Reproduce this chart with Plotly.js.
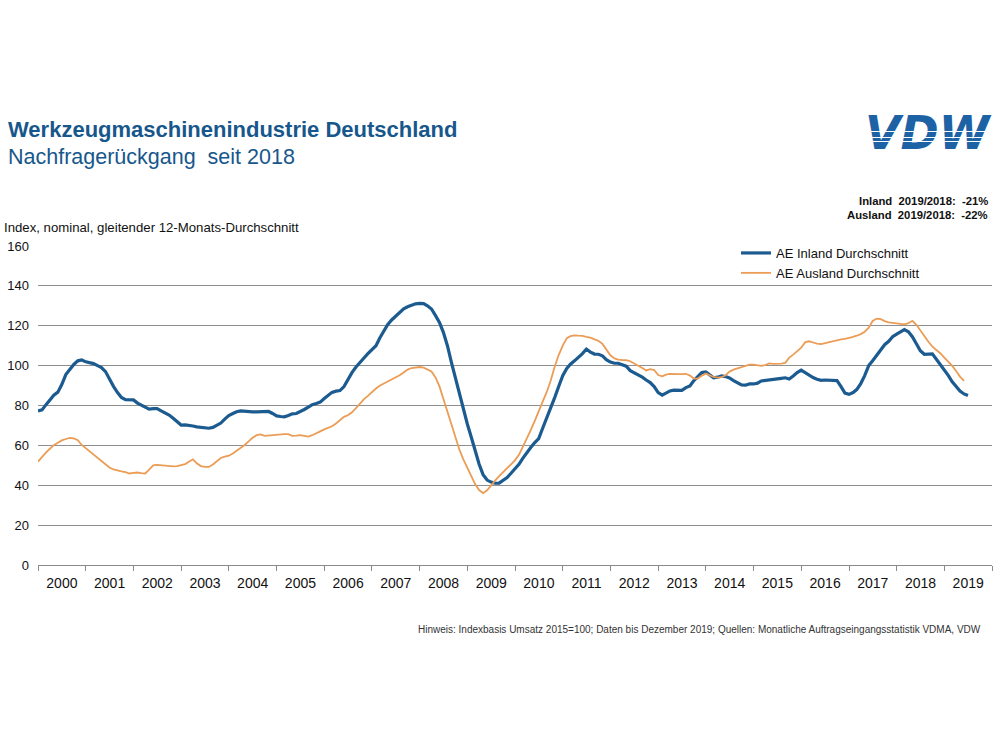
<!DOCTYPE html>
<html>
<head>
<meta charset="utf-8">
<script src="https://cdn.plot.ly/plotly-3.0.1.min.js"></script>
<style>
  html, body { margin: 0; padding: 0; background: #fff; }
  #chart { width: 1000px; height: 750px; }
</style>
</head>
<body>
<div id="chart"></div>
<script>
// Monthly order intake index (12-month moving average), starting January 2000
const startYear = 2000;

// AE Inland Durchschnitt
const inland = [
  77.3, 77.8, 80.3, 83.0, 85.2, 86.7, 90.5, 95.5, 98.0, 100.6, 102.4, 102.8,   // 2000
  101.9, 101.5, 101.0, 100.0, 99.0, 97.0, 93.0, 89.6, 86.5, 84.0, 82.9, 83.0,  // 2001
  82.8, 81.2, 80.2, 79.0, 78.2, 78.4, 78.4, 77.3, 76.3, 75.2, 73.6, 72.0,      // 2002
  70.2, 70.3, 70.2, 69.7, 69.3, 69.1, 68.8, 68.6, 69.0, 70.0, 71.2, 73.2,      // 2003
  75.0, 76.0, 76.9, 77.3, 77.1, 76.8, 76.8, 76.8, 76.8, 76.9, 77.0, 76.0,      // 2004
  74.8, 74.5, 74.3, 75.0, 75.8, 76.0, 76.8, 78.0, 79.2, 80.4, 81.0, 81.7,      // 2005
  83.5, 85.3, 86.6, 87.2, 87.5, 89.5, 93.0, 96.5, 99.3, 101.3, 103.8, 106.0,   // 2006
  107.8, 110.0, 113.7, 117.4, 120.5, 122.9, 124.7, 127.0, 128.5, 129.5, 130.3, 131.0, // 2007
  131.2, 131.1, 130.0, 128.4, 125.2, 121.7, 116.7, 110.0, 101.5, 93.8, 86.1, 78.4,    // 2008
  70.6, 63.8, 57.3, 50.5, 45.3, 42.6, 41.6, 41.0, 41.1, 42.3, 43.9, 46.0,      // 2009
  48.2, 50.6, 53.5, 56.4, 58.9, 61.4, 63.4, 68.7, 73.7, 78.6, 84.1, 89.5,      // 2010
  94.9, 98.6, 100.7, 102.4, 104.0, 106.0, 108.3, 106.8, 105.8, 105.7, 104.9, 103.0,  // 2011
  101.8, 101.2, 101.2, 100.6, 99.7, 97.5, 96.5, 95.2, 94.2, 92.8, 91.5, 89.5,  // 2012
  86.5, 85.2, 86.3, 87.3, 87.7, 87.6, 87.6, 89.0, 89.8, 92.5, 94.8, 96.5,      // 2013
  96.8, 95.3, 93.9, 94.2, 94.8, 94.5, 93.8, 92.5, 91.3, 90.3, 90.2, 90.8,      // 2014
  90.8, 91.2, 92.3, 92.5, 92.8, 93.1, 93.3, 93.6, 93.9, 93.3, 94.8, 96.5,      // 2015
  97.7, 96.5, 95.0, 94.0, 93.2, 92.6, 92.8, 92.8, 92.8, 92.5, 89.5, 86.2,      // 2016
  85.6, 86.5, 88.0, 91.0, 95.0, 100.0, 102.5, 105.0, 108.0, 110.5, 112.2, 114.5, // 2017
  115.8, 116.8, 118.1, 117.0, 114.5, 111.0, 107.5, 105.7, 106.0, 105.9, 103.2, 100.5, // 2018
  98.0, 95.0, 92.0, 89.5, 87.3, 85.8, 85.0                                     // 2019
];

// AE Ausland Durchschnitt
const ausland = [
  51.8, 54.3, 56.4, 58.3, 60.1, 61.3, 62.5, 63.2, 63.7, 63.5, 62.6, 60.2,      // 2000
  58.5, 57.0, 55.2, 53.9, 51.9, 50.2, 48.9, 47.9, 47.3, 47.0, 46.6, 45.9,      // 2001
  46.2, 46.4, 46.1, 45.9, 47.8, 50.0, 50.2, 50.0, 49.8, 49.6, 49.5, 49.6,      // 2002
  50.0, 50.6, 51.8, 53.0, 51.0, 49.6, 49.2, 49.2, 50.4, 52.0, 53.7, 54.4,      // 2003
  54.8, 55.9, 57.2, 58.6, 60.2, 62.0, 63.8, 65.1, 65.5, 64.8, 65.0, 65.3,      // 2004
  65.4, 65.6, 65.6, 65.6, 64.8, 64.9, 65.1, 64.8, 64.4, 65.1, 65.9, 67.0,      // 2005
  68.0, 68.7, 69.6, 71.0, 72.8, 74.3, 75.1, 76.6, 78.7, 81.0, 83.2, 84.8,      // 2006
  86.8, 88.5, 89.9, 91.0, 91.8, 92.8, 94.2, 95.2, 96.6, 98.0, 98.8, 99.2,      // 2007
  99.3, 99.0, 98.2, 97.1, 94.2, 89.6, 83.4, 77.0, 70.5, 63.8, 57.8, 53.0,      // 2008
  48.5, 44.3, 40.6, 37.6, 36.0, 37.5, 39.6, 42.3, 44.6, 46.8, 48.6, 50.5,      // 2009
  52.6, 55.4, 59.0, 63.1, 67.6, 72.3, 77.4, 82.1, 86.8, 92.5, 99.6, 105.3,     // 2010
  110.0, 113.8, 114.8, 115.2, 115.0, 114.9, 114.4, 114.0, 113.2, 112.5, 110.9, 108.1, // 2011
  105.2, 103.6, 103.0, 102.8, 102.8, 102.2, 101.2, 100.2, 98.8, 97.6, 98.2, 97.8,     // 2012
  95.3, 94.6, 95.5, 95.9, 95.7, 95.7, 95.7, 95.9, 95.0, 93.5, 93.5, 95.0,      // 2013
  96.0, 95.0, 94.3, 94.0, 94.2, 95.2, 97.0, 98.0, 98.6, 99.2, 99.9, 100.5,     // 2014
  100.5, 100.0, 99.9, 100.3, 101.1, 100.9, 100.8, 101.0, 101.4, 104.0, 105.5, 107.0, // 2015
  109.0, 111.8, 112.2, 111.6, 111.0, 110.8, 111.3, 111.8, 112.5, 113.0, 113.2, 113.4, // 2016
  113.8, 114.4, 115.0, 115.8, 117.0, 119.0, 122.4, 123.6, 123.3, 122.3, 121.7, 121.4, // 2017
  121.2, 121.0, 120.7, 121.3, 122.5, 120.5, 117.5, 114.9, 112.0, 109.6, 107.8, 106.2, // 2018
  104.0, 102.0, 100.0, 97.3, 94.5, 92.3                                        // 2019
];

const seriesNames = ['AE Inland Durchschnitt', 'AE Ausland Durchschnitt'];
const yTicks = [0, 20, 40, 60, 80, 100, 120, 140, 160];

// month dates (first of each month) for the series
function monthDates(n) {
  const out = [];
  for (let i = 0; i < n; i++) {
    const y = startYear + Math.floor(i / 12);
    const m = (i % 12) + 1;
    out.push(y + '-' + (m < 10 ? '0' + m : m) + '-01');
  }
  return out;
}

// plot area in pixels, used to place page texts around it
const plotL = 38, plotR = 992, plotT = 246, plotB = 565;
const px = x => (x - plotL) / (plotR - plotL);
const py = y => (plotB - y) / (plotB - plotT);

const FONT = 'Liberation Sans, Arial, Helvetica, sans-serif';
const titleBlue = '#17578c';
const logoBlue = '#1d62a5';

const traces = [
  {
    x: monthDates(inland.length), y: inland, name: seriesNames[0],
    type: 'scatter', mode: 'lines',
    line: { color: '#1b5b90', width: 3.2 },
    hoverinfo: 'skip'
  },
  {
    x: monthDates(ausland.length), y: ausland, name: seriesNames[1],
    type: 'scatter', mode: 'lines',
    line: { color: '#eb9c55', width: 1.8 },
    hoverinfo: 'skip'
  }
];

const ann = (text, x, y, opts) => Object.assign({
  text: text, xref: 'paper', yref: 'paper', x: px(x), y: py(y),
  xanchor: 'left', yanchor: 'middle', showarrow: false,
  font: { family: FONT, size: 12, color: '#111' }
}, opts || {});

const annotations = [
  ann('<b>Werkzeugmaschinenindustrie Deutschland</b>', 6, 129,
      { font: { family: FONT, size: 22, color: titleBlue } }),
  ann('Nachfragerückgang  seit 2018', 6, 157,
      { font: { family: FONT, size: 21.5, color: titleBlue } }),
  ann('Index, nominal, gleitender 12-Monats-Durchschnitt', 2, 228,
      { font: { family: FONT, size: 13.2, color: '#111' } }),
  ann('<b>Inland  2019/2018:  -21%</b>', 990, 201,
      { xanchor: 'right', font: { family: FONT, size: 11.3, color: '#111' } }),
  ann('<b>Ausland  2019/2018:  -22%</b>', 990, 215,
      { xanchor: 'right', font: { family: FONT, size: 11.3, color: '#111' } }),
  ann('Hinweis: Indexbasis Umsatz 2015=100; Daten bis Dezember 2019; Quellen: Monatliche Auftragseingangsstatistik VDMA, VDW',
      983, 629, { xanchor: 'right', font: { family: FONT, size: 10, color: '#333' } }),
  // logo lettering
  ann('<b><i>VDW</i></b>', 994, 133,
      { xanchor: 'right', font: { family: 'DejaVu Sans, sans-serif', size: 46, color: logoBlue } })
];

// thin white stripes across the lower half of the logo lettering
[132, 137, 141.5].forEach(y => annotations.push(ann(' ', 862, y, {
  xanchor: 'left', width: 136, height: 1, borderpad: 0, borderwidth: 0,
  bgcolor: '#ffffff', font: { family: FONT, size: 1, color: '#ffffff' }
})));

const layout = {
  width: 1000, height: 750,
  margin: { l: plotL, r: 1000 - plotR, t: plotT, b: 750 - plotB, pad: 0 },
  paper_bgcolor: '#ffffff', plot_bgcolor: '#ffffff',
  font: { family: FONT, size: 13, color: '#111' },
  showlegend: true,
  legend: {
    x: px(736), y: py(238), xanchor: 'left', yanchor: 'top',
    bgcolor: 'rgba(0,0,0,0)', font: { family: FONT, size: 13, color: '#111' },
    tracegroupgap: 0, itemclick: false
  },
  xaxis: {
    type: 'date',
    range: ['2000-01-01', '2020-01-01'],
    tick0: '2000-01-01', dtick: 'M12',
    ticklabelmode: 'period', tickformat: '%Y',
    ticks: 'outside', ticklen: 5, tickcolor: '#8a8a8a', tickwidth: 1,
    showline: true, linecolor: '#8a8a8a', linewidth: 1,
    showgrid: false, zeroline: false,
    tickfont: { family: FONT, size: 14, color: '#111' },
    fixedrange: true
  },
  yaxis: {
    range: [0, 160], tickvals: yTicks,
    showgrid: true, gridcolor: '#8f8f8f', gridwidth: 1,
    zeroline: false, showline: false, ticks: '',
    ticklabelstandoff: 8,
    tickfont: { family: FONT, size: 13, color: '#111' },
    fixedrange: true
  },
  annotations: annotations
};

Plotly.newPlot('chart', traces, layout, { displayModeBar: false, staticPlot: true });
</script>
</body>
</html>
